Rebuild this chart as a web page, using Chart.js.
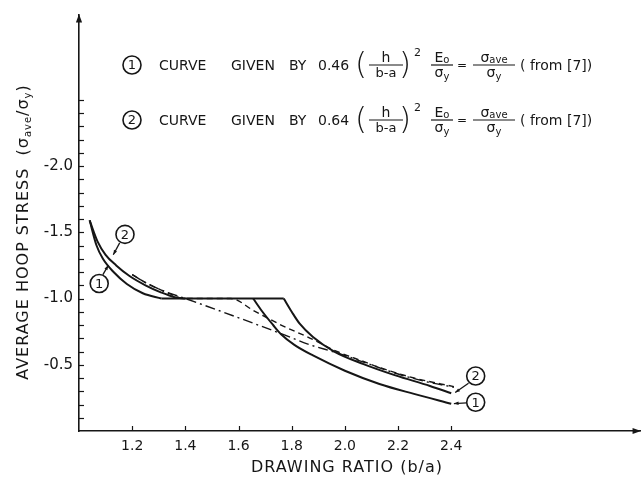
<!DOCTYPE html>
<html><head><meta charset="utf-8">
<script src="https://cdn.jsdelivr.net/npm/chart.js@4/dist/chart.umd.min.js"></script>
<style>html,body{margin:0;padding:0;background:#fff;}#wrap{width:643px;height:482px;}</style>
</head><body><div id="wrap"><canvas id="c" width="643" height="482"></canvas></div>
<script>
// ---- data ----
const xTickLabels = [1.2, 1.4, 1.6, 1.8, 2.0, 2.2, 2.4];
const yTickLabels = [-0.5, -1.0, -1.5, -2.0];
const yMinorTicks = [-0.1, -0.2, -0.3, -0.4, -0.5, -0.6, -0.7, -0.8, -0.9, -1.0, -1.1, -1.2, -1.3, -1.4, -1.5, -1.6, -1.7, -1.8, -1.9, -2.0, -2.1, -2.2, -2.3, -2.4, -2.5];

const curve1RiseX = [1.04, 1.066, 1.09, 1.13, 1.18, 1.24, 1.31];
const curve1RiseY = [-1.59, -1.40, -1.30, -1.20, -1.11, -1.04, -1.0];
const plateauX = [1.31, 1.77];
const plateauY = [-1.0, -1.0];
const curve1FallX = [1.655, 1.69, 1.73, 1.76, 1.81, 1.88, 2.0, 2.13, 2.26, 2.40];
const curve1FallY = [-1.0, -0.90, -0.80, -0.73, -0.65, -0.57, -0.455, -0.355, -0.28, -0.205];
const curve2RiseX = [1.04, 1.07, 1.10, 1.14, 1.19, 1.25, 1.31, 1.36, 1.40];
const curve2RiseY = [-1.59, -1.43, -1.33, -1.25, -1.17, -1.10, -1.045, -1.01, -1.0];
const curve2FallX = [1.77, 1.80, 1.83, 1.88, 1.96, 2.07, 2.19, 2.32, 2.40];
const curve2FallY = [-1.0, -0.90, -0.81, -0.71, -0.60, -0.505, -0.42, -0.34, -0.285];
const dashedX = [1.20, 1.26, 1.32, 1.40, 1.57, 1.66, 1.76, 1.87, 1.97, 2.07, 2.13, 2.26, 2.41];
const dashedY = [-1.18, -1.11, -1.055, -1.0, -1.0, -0.905, -0.80, -0.70, -0.60, -0.525, -0.48, -0.40, -0.335];
const dashDotX = [1.20, 1.26, 1.32, 1.40, 1.76, 1.87, 1.97, 2.07, 2.20, 2.30, 2.41];
const dashDotY = [-1.18, -1.11, -1.055, -1.0, -0.735, -0.65, -0.59, -0.52, -0.43, -0.375, -0.33];

const INK = '#161616';
const FONT = '"DejaVu Sans", sans-serif';
const pts = (xs, ys) => xs.map((x, i) => ({x, y: ys[i]}));
const line = (xs, ys, dash, w) => ({
  data: pts(xs, ys), borderColor: INK, borderWidth: w || 2, borderDash: dash || [],
  pointRadius: 0, fill: false, cubicInterpolationMode: 'monotone'
});

function arrowHead(ctx, x1, y1, x2, y2, size) {
  const a = Math.atan2(y2 - y1, x2 - x1);
  ctx.beginPath();
  ctx.moveTo(x2, y2);
  ctx.lineTo(x2 - size * Math.cos(a - 0.35), y2 - size * Math.sin(a - 0.35));
  ctx.lineTo(x2 - size * Math.cos(a + 0.35), y2 - size * Math.sin(a + 0.35));
  ctx.closePath();
  ctx.fill();
}
function circled(ctx, x, y, t) {
  ctx.beginPath(); ctx.lineWidth = 1.6; ctx.arc(x, y, 9, 0, Math.PI * 2); ctx.stroke();
  ctx.font = '13px ' + FONT; ctx.textAlign = 'center'; ctx.textBaseline = 'middle';
  ctx.fillText(t, x, y + 1);
}
function leader(ctx, x1, y1, x2, y2) {
  ctx.beginPath(); ctx.lineWidth = 1.3; ctx.moveTo(x1, y1); ctx.lineTo(x2, y2); ctx.stroke();
  arrowHead(ctx, x1, y1, x2, y2, 5);
}
function frac(ctx, cx, y, top, bot, w) {
  ctx.textBaseline = 'alphabetic';
  drawRich(ctx, top, cx, y - 3, 'center');
  ctx.beginPath(); ctx.lineWidth = 1.2; ctx.moveTo(cx - w / 2, y); ctx.lineTo(cx + w / 2, y); ctx.stroke();
  drawRich(ctx, bot, cx, y + 12, 'center');
}
// pieces: [text, size, dy]
function drawRich(ctx, pieces, x, y, align) {
  let total = 0;
  pieces.forEach(p => { ctx.font = p[1] + 'px ' + FONT; total += ctx.measureText(p[0]).width; });
  let cx = align === 'center' ? x - total / 2 : x;
  ctx.textAlign = 'left';
  pieces.forEach(p => {
    ctx.font = p[1] + 'px ' + FONT;
    ctx.fillText(p[0], cx, y + (p[2] || 0));
    cx += ctx.measureText(p[0]).width;
  });
}

const decor = {
  id: 'decor',
  afterDraw(chart) {
    const ctx = chart.ctx, xs = chart.scales.x, ys = chart.scales.y, a = chart.chartArea;
    const X = v => xs.getPixelForValue(v), Y = v => ys.getPixelForValue(v);
    ctx.save();
    ctx.fillStyle = INK; ctx.strokeStyle = INK;
    // inward tick marks
    ctx.lineWidth = 1.2;
    yMinorTicks.forEach(v => { const y = Math.round(Y(v)) + 0.5; ctx.beginPath(); ctx.moveTo(a.left, y); ctx.lineTo(a.left + 5, y); ctx.stroke(); });
    xTickLabels.forEach(v => { const x = Math.round(X(v)) + 0.5; ctx.beginPath(); ctx.moveTo(x, a.bottom); ctx.lineTo(x, a.bottom - 5); ctx.stroke(); });
    // axis arrows
    arrowHead(ctx, a.left, a.top + 20, a.left, a.top - 1, 9);
    arrowHead(ctx, a.right - 20, a.bottom, a.right + 1, a.bottom, 9);
    // circled curve labels with leaders
    circled(ctx, X(1.173), Y(-1.484), '2');
    leader(ctx, X(1.153), Y(-1.42), X(1.129), Y(-1.33));
    circled(ctx, X(1.076), Y(-1.113), '1');
    leader(ctx, X(1.09), Y(-1.18), X(1.11), Y(-1.25));
    circled(ctx, X(2.492), Y(-0.415), '2');
    leader(ctx, X(2.465), Y(-0.36), X(2.415), Y(-0.29));
    circled(ctx, X(2.492), Y(-0.217), '1');
    leader(ctx, X(2.458), Y(-0.212), X(2.41), Y(-0.207));
    // legend rows
    [[65, '1', '0.46'], [120, '2', '0.64']].forEach(r => {
      const y = r[0];
      circled(ctx, 132, y, r[1]);
      ctx.textBaseline = 'middle'; ctx.textAlign = 'left';
      ctx.font = '14px ' + FONT;
      ctx.fillText('CURVE', 159, y + 1);
      ctx.fillText('GIVEN', 231, y + 1);
      ctx.fillText('BY', 289, y + 1);
      ctx.fillText(r[2], 318, y + 1);
      ctx.font = '300 31px ' + FONT;
      ctx.fillText('(', 355, y + 1);
      ctx.fillText(')', 399, y + 1);
      frac(ctx, 386, y, [['h', 14]], [['b-a', 13]], 34);
      ctx.font = '11px ' + FONT; ctx.textAlign = 'left';
      ctx.fillText('2', 414, y - 9);
      frac(ctx, 442, y, [['E', 14], ['o', 10, 1]], [['\u03C3', 14], ['y', 10, 3]], 22);
      ctx.font = '12px ' + FONT; ctx.textAlign = 'center';
      ctx.fillText('=', 462, y + 4);
      frac(ctx, 494, y, [['\u03C3', 14], ['ave', 10, 1]], [['\u03C3', 14], ['y', 10, 3]], 42);
      ctx.textBaseline = 'middle'; ctx.textAlign = 'left'; ctx.font = '14px ' + FONT;
      ctx.fillText('( from [7])', 520, y + 1);
    });
    // axis titles
    ctx.textBaseline = 'alphabetic';
    ctx.letterSpacing = '1px';
    ctx.font = '16px ' + FONT; ctx.textAlign = 'center';
    ctx.fillText('DRAWING RATIO (b/a)', 347, 472);
    ctx.save();
    ctx.translate(28, 232); ctx.rotate(-Math.PI / 2);
    drawRich(ctx, [['AVERAGE HOOP STRESS  (', 16], ['\u03C3', 16], ['ave', 10, 3], ['/', 16], ['\u03C3', 16], ['y', 10, 3], [')', 16]], 0, 0, 'center');
    ctx.restore();
    ctx.letterSpacing = '0px';
    ctx.restore();
  }
};

new Chart(document.getElementById('c'), {
  type: 'line',
  data: { datasets: [
    line(dashedX, dashedY, [6, 4], 1.4),
    line(dashDotX, dashDotY, [10, 4, 2, 4], 1.4),
    line(curve1RiseX, curve1RiseY),
    line(curve2RiseX, curve2RiseY),
    line(plateauX, plateauY),
    line(curve1FallX, curve1FallY),
    line(curve2FallX, curve2FallY)
  ]},
  options: {
    responsive: false, animation: false,
    layout: { padding: { top: 7, right: 3, left: 0, bottom: 0 } },
    plugins: { legend: { display: false }, tooltip: { enabled: false } },
    scales: {
      x: {
        type: 'linear', min: 1.0, max: 3.11,
        grid: { display: true, drawOnChartArea: false, drawTicks: false },
        border: { display: true, color: INK, width: 1.6 },
        afterBuildTicks: s => { s.ticks = xTickLabels.map(v => ({ value: v })); },
        afterFit: s => { s.height = 51; },
        ticks: { padding: 7, color: INK, font: { family: FONT, size: 14 }, maxRotation: 0, autoSkip: false,
          callback: v => Number(v).toFixed(1) }
      },
      y: {
        type: 'linear', min: -3.14, max: 0, reverse: true,
        grid: { display: true, drawOnChartArea: false, drawTicks: false },
        border: { display: true, color: INK, width: 1.6 },
        afterBuildTicks: s => { s.ticks = yTickLabels.map(v => ({ value: v })); },
        afterFit: s => { s.width = 79; },
        ticks: { padding: 6, color: INK, font: { family: FONT, size: 15 }, autoSkip: false,
          callback: v => Number(v).toFixed(1) }
      }
    }
  },
  plugins: [decor]
});
</script></body></html>
